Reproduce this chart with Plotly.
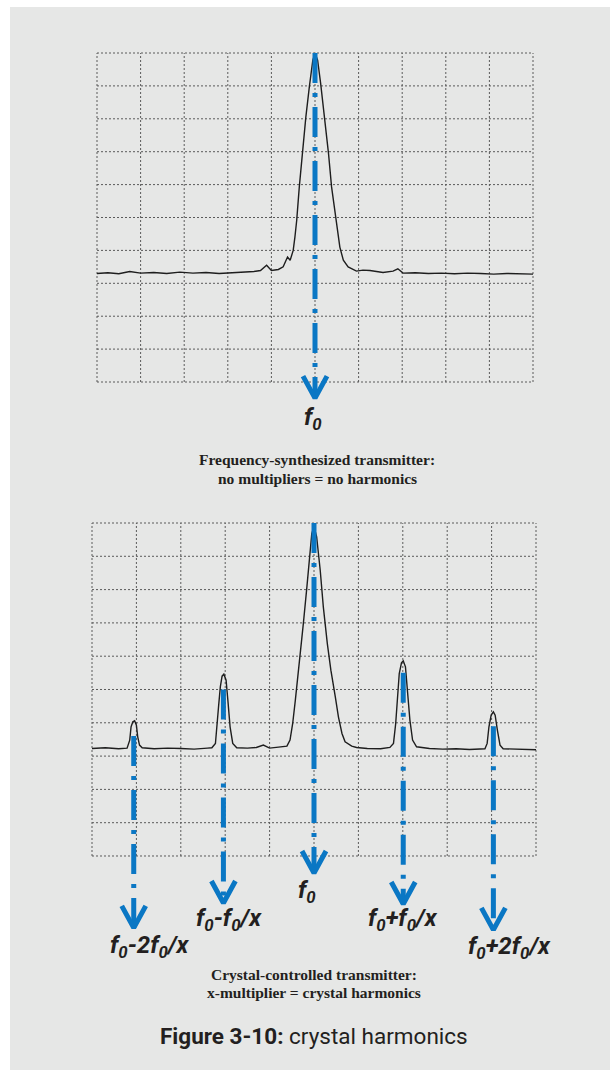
import plotly.graph_objects as go

# ---------------- data (grid units: x 0-10 divisions, y 0-10 divisions) -------------
top_x = [0.0, 0.25, 0.5, 0.75, 1.0, 1.3, 1.6, 1.9, 2.2, 2.5, 2.8, 3.1, 3.4, 3.6, 3.75, 3.89, 4.0,
         4.16, 4.27, 4.37, 4.43, 4.5, 4.54, 4.58, 4.64, 4.71, 4.79, 4.87, 4.95, 5.0, 5.06, 5.13,
         5.23, 5.31, 5.38, 5.48, 5.57, 5.65, 5.76, 5.95, 6.1, 6.26, 6.4, 6.56, 6.79, 6.9, 7.02,
         7.3, 7.6, 7.9, 8.2, 8.5, 8.8, 9.1, 9.4, 9.7, 10.0]
top_y = [3.30, 3.32, 3.29, 3.36, 3.31, 3.33, 3.30, 3.34, 3.31, 3.33, 3.30, 3.32, 3.33, 3.36, 3.39, 3.55, 3.39,
         3.42, 3.50, 3.80, 3.70, 4.00, 4.41, 4.91, 5.93, 6.94, 8.05, 8.97, 9.78, 10.0, 9.78, 9.07,
         7.95, 6.94, 5.93, 4.91, 4.10, 3.70, 3.50, 3.37, 3.40, 3.39, 3.36, 3.33, 3.37, 3.44, 3.31,
         3.32, 3.30, 3.31, 3.29, 3.31, 3.30, 3.28, 3.30, 3.29, 3.28]

bot_x = [0.0, 0.3, 0.6, 0.79, 0.85, 0.88, 0.92, 0.96, 1.0, 1.03, 1.07, 1.13, 1.4, 1.7, 2.0, 2.3,
         2.6, 2.7, 2.78, 2.81, 2.85, 2.89, 2.93, 2.97, 3.02, 3.06, 3.11, 3.17, 3.26, 3.5, 3.7, 3.86,
         4.0, 4.2, 4.39, 4.46, 4.52, 4.58, 4.63, 4.69, 4.76, 4.84, 4.9, 4.95, 5.0, 5.06, 5.14,
         5.21, 5.3, 5.38, 5.48, 5.55, 5.63, 5.7, 5.85, 5.96, 6.2, 6.5, 6.71, 6.79, 6.84, 6.88,
         6.92, 6.97, 7.01, 7.06, 7.11, 7.16, 7.22, 7.31, 7.6, 7.9, 8.2, 8.5, 8.85, 8.9, 8.94,
         8.99, 9.04, 9.08, 9.13, 9.19, 9.26, 9.5, 9.75, 10.0]
bot_y = [3.23, 3.25, 3.22, 3.24, 3.48, 3.88, 4.03, 4.06, 3.93, 3.58, 3.33, 3.25, 3.22, 3.24, 3.23, 3.21,
         3.24, 3.25, 3.38, 3.78, 4.48, 5.08, 5.40, 5.46, 5.28, 4.68, 3.88, 3.38, 3.25, 3.24, 3.26, 3.33,
         3.24, 3.27, 3.30, 3.48, 3.98, 4.68, 5.38, 6.08, 6.98, 8.08, 9.08, 9.68, 9.90, 9.58, 8.58,
         7.48, 6.38, 5.58, 4.78, 4.18, 3.68, 3.43, 3.30, 3.26, 3.23, 3.22, 3.26, 3.38, 3.98, 4.78,
         5.48, 5.80, 5.86, 5.68, 4.98, 4.08, 3.48, 3.28, 3.23, 3.21, 3.22, 3.20, 3.22, 3.38, 3.88,
         4.23, 4.33, 4.23, 3.78, 3.33, 3.22, 3.21, 3.20, 3.19]

top_peak_x = [5.0]
top_labels = ["f<sub>0</sub>"]
bot_peak_x = [0.94, 2.96, 5.0, 7.01, 9.04]
bot_labels = ["f<sub>0</sub>-2f<sub>0</sub>/x", "f<sub>0</sub>-f<sub>0</sub>/x", "f<sub>0</sub>",
              "f<sub>0</sub>+f<sub>0</sub>/x", "f<sub>0</sub>+2f<sub>0</sub>/x"]

caption_top = ["Frequency-synthesized transmitter:", "no multipliers = no harmonics"]
caption_bot = ["Crystal-controlled transmitter:", "x-multiplier = crystal harmonics"]
figure_title = "<b>Figure 3-10:</b> crystal harmonics"

# ---------------- layout geometry -------------
W, H = 610, 1070
BLUE = "#0a77c4"
INK = "#231f20"
GRIDC = "#5a5a5a"
BG = "#e6e7e6"

def panel(px_left, px_right, px_top, px_bot, ylo, yhi, xlo=-0.1, xhi=10.1):
    ppx = (px_right - px_left) / 10.0
    ppy = (px_bot - px_top) / 10.0
    dl = px_left + xlo * ppx
    dr = px_left + xhi * ppx
    dt = px_top - (yhi - 10) * ppy
    db = px_bot - ylo * ppy
    return dict(xdom=[dl / W, dr / W], ydom=[1 - db / H, 1 - dt / H], xr=[xlo, xhi], yr=[ylo, yhi],
                ppx=ppx, ppy=ppy)

P1 = panel(97, 533, 53, 382, -1.5, 10.15)
P2 = panel(92, 536, 523, 856, -3.3, 10.15)

fig = go.Figure()

shapes = [dict(type="rect", xref="paper", yref="paper", x0=10 / W, x1=1, y0=0, y1=1 - 7 / H,
               fillcolor=BG, line=dict(width=0), layer="below")]

for xa, ya in (("x", "y"), ("x2", "y2")):
    for i in range(11):
        shapes.append(dict(type="line", xref=xa, yref=ya, x0=i, x1=i, y0=0, y1=10,
                           line=dict(color=GRIDC, width=1, dash="2px,2px"), layer="below"))
        shapes.append(dict(type="line", xref=xa, yref=ya, x0=0, x1=10, y0=i, y1=i,
                           line=dict(color=GRIDC, width=1, dash="2px,2px"), layer="below"))

# spectra
fig.add_trace(go.Scatter(x=top_x, y=top_y, mode="lines", line=dict(color="#1e1e1e", width=1.4),
                         xaxis="x", yaxis="y", hoverinfo="skip"))
fig.add_trace(go.Scatter(x=bot_x, y=bot_y, mode="lines", line=dict(color="#1e1e1e", width=1.4),
                         xaxis="x2", yaxis="y2", hoverinfo="skip"))

DASH = "30px,10px,4px,10px"

def arrow(xc, y_start, y_tip, P, xa, ya):
    fig.add_trace(go.Scatter(x=[xc, xc], y=[y_start, y_tip], mode="lines",
                             line=dict(color=BLUE, width=5, dash=DASH), xaxis=xa, yaxis=ya,
                             hoverinfo="skip"))
    hw = 12.0 / P["ppx"]
    hh = 22.0 / P["ppy"]
    fig.add_trace(go.Scatter(x=[xc - hw, xc, xc + hw], y=[y_tip + hh, y_tip, y_tip + hh],
                             mode="lines", line=dict(color=BLUE, width=5), xaxis=xa, yaxis=ya,
                             hoverinfo="skip"))

# top arrow: starts at top of grid
arrow(top_peak_x[0], 10.0, -0.49, P1, "x", "y")

# bottom arrows (start just under each peak, tips staggered below)
bot_start = [3.6, 5.0, 10.0, 5.5, 3.9]
bot_tip = [-2.16, -1.41, -0.51, -1.44, -2.22]
for xc, ys, yt in zip(bot_peak_x, bot_start, bot_tip):
    arrow(xc, ys, yt, P2, "x2", "y2")

LABEL_FONT = dict(family="Roboto, Liberation Sans, sans-serif",
                  size=24, color=INK, weight="bold", style="italic")

annotations = []
annotations.append(dict(x=4.95, y=-1.1, xref="x", yref="y", text=top_labels[0], showarrow=False,
                        font=LABEL_FONT, xanchor="center", yanchor="middle"))
lab_x = [1.31, 3.09, 4.84, 7.0, 9.41]
lab_y = [-2.73, -1.92, -1.08, -1.92, -2.76]
for t, lx, ly in zip(bot_labels, lab_x, lab_y):
    annotations.append(dict(x=lx, y=ly, xref="x2", yref="y2", text=t, showarrow=False,
                            font=LABEL_FONT, xanchor="center", yanchor="middle"))

CAP_FONT = dict(family="Liberation Serif, Times New Roman, serif", size=15.5, color=INK, weight="bold")
for txt, py in zip(caption_top, [459, 478]):
    annotations.append(dict(x=317 / W, y=1 - py / H, xref="paper", yref="paper", text=txt,
                            showarrow=False, font=CAP_FONT, xanchor="center", yanchor="middle"))
for txt, py in zip(caption_bot, [974, 992]):
    annotations.append(dict(x=314 / W, y=1 - py / H, xref="paper", yref="paper", text=txt,
                            showarrow=False, font=CAP_FONT, xanchor="center", yanchor="middle"))

annotations.append(dict(x=314 / W, y=1 - 1036 / H, xref="paper", yref="paper", text=figure_title,
                        showarrow=False, xanchor="center", yanchor="middle",
                        font=dict(family="Roboto, Liberation Sans, sans-serif", size=22.5, color=INK)))

ax_common = dict(visible=False, showgrid=False, zeroline=False, fixedrange=True)
fig.update_layout(
    width=W, height=H, margin=dict(l=0, r=0, t=0, b=0),
    paper_bgcolor="white", plot_bgcolor="rgba(0,0,0,0)", showlegend=False,
    xaxis=dict(domain=P1["xdom"], range=P1["xr"], anchor="y", **ax_common),
    yaxis=dict(domain=P1["ydom"], range=P1["yr"], anchor="x", **ax_common),
    xaxis2=dict(domain=P2["xdom"], range=P2["xr"], anchor="y2", **ax_common),
    yaxis2=dict(domain=P2["ydom"], range=P2["yr"], anchor="x2", **ax_common),
    shapes=shapes, annotations=annotations,
)

fig.write_html("out.html", config={"displayModeBar": False},
               post_script="document.body.style.margin='0';document.body.style.overflow='hidden';")
